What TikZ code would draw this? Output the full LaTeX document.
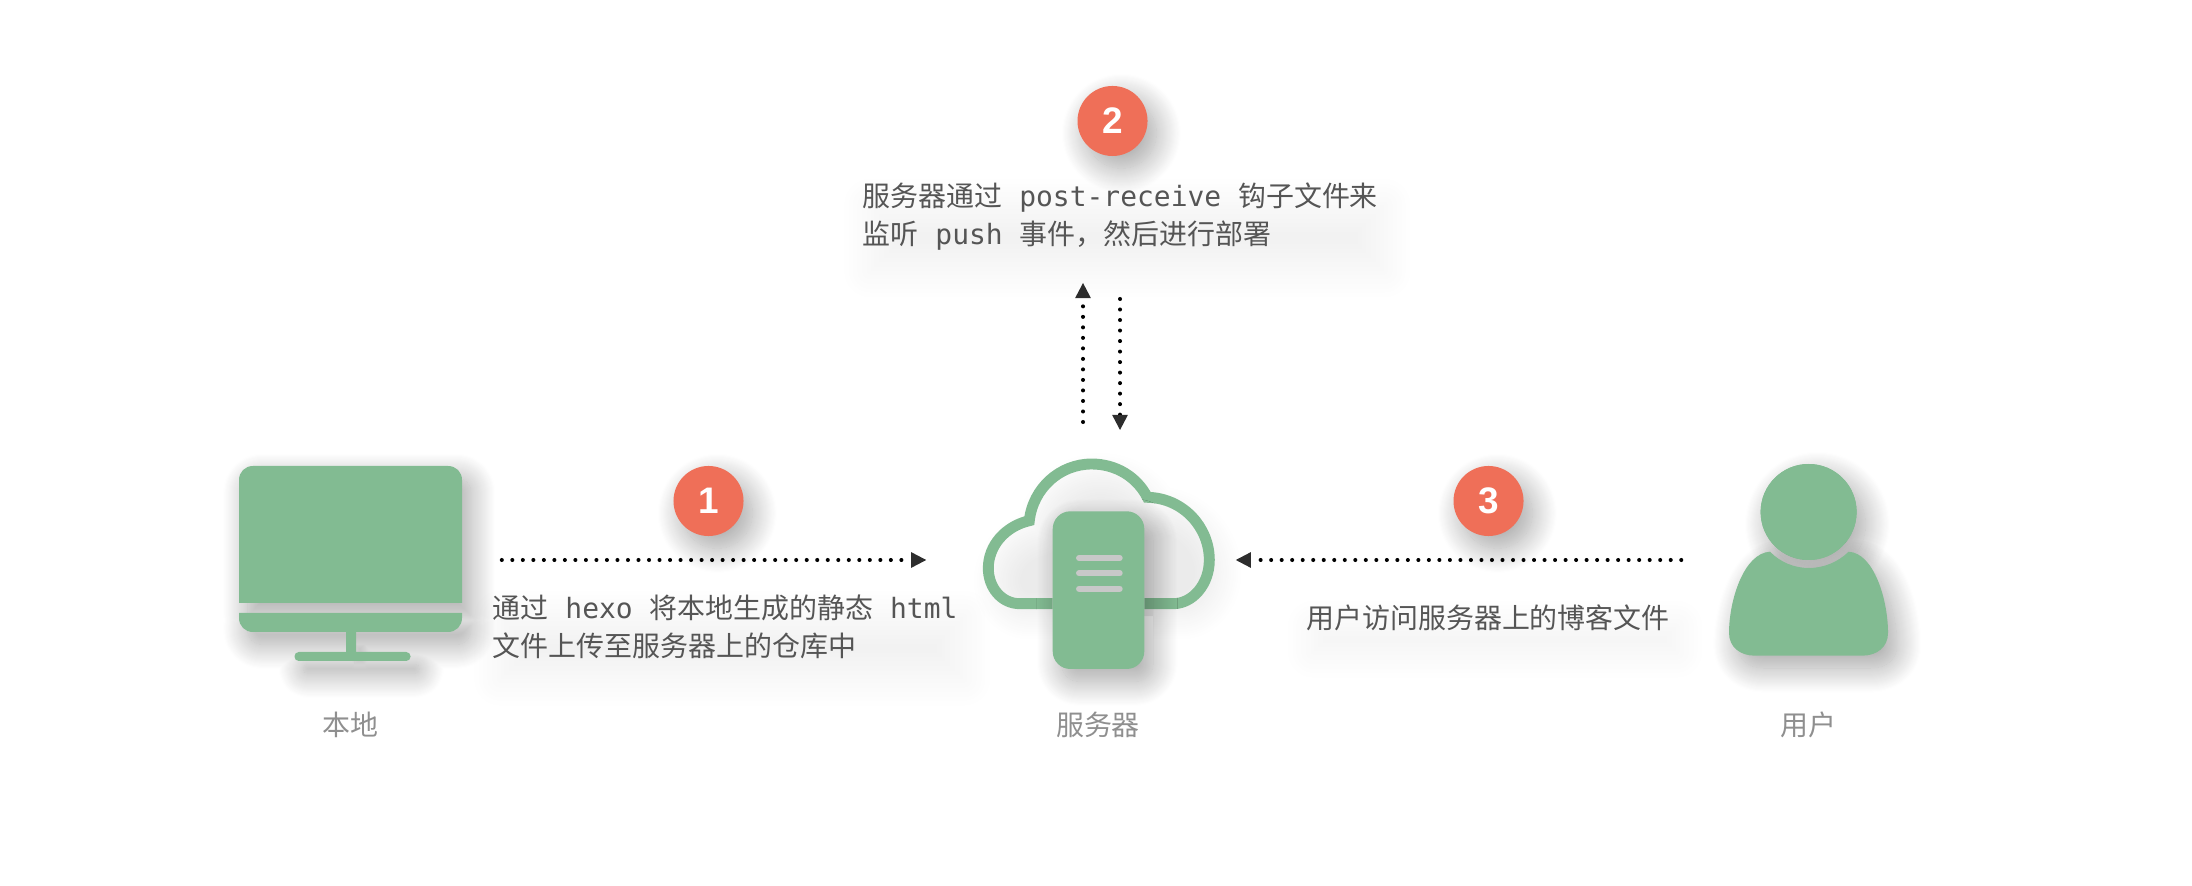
\documentclass[tikz,border=0pt]{standalone}
\usepackage{fontspec}
\usetikzlibrary{arrows.meta,shadows.blur}
\setmainfont{Noto Sans CJK SC}
\newfontfamily\latinfont{DejaVu Sans Mono}
\newfontfamily\digitfont{Liberation Sans}[BoldFont={Liberation Sans Bold}]

\definecolor{iconGreen}{HTML}{82BB92}
\definecolor{badgeRed}{HTML}{EF6F58}
\definecolor{captionGray}{HTML}{555555}
\definecolor{labelGray}{HTML}{8F8F8F}
\definecolor{slotGray}{HTML}{C8C8C8}

\tikzset{
    softshadow/.style={blur shadow={shadow xshift=2.5pt,shadow yshift=-3.5pt,shadow blur radius=7pt,shadow blur steps=24,shadow opacity=#1}},
    icon/.style={fill=iconGreen,softshadow=35},
    badge/.style={circle,fill=badgeRed,minimum size=0.7cm,inner sep=0,text=white,font=\digitfont\bfseries\fontsize{10.5}{10.5}\selectfont,softshadow=35},
    caption/.style={align=left,inner sep=0,text=captionGray,font=\fontsize{7.95}{10.8}\selectfont},
    captionshade/.style={blur shadow={shadow xshift=2pt,shadow yshift=-6pt,shadow blur radius=8pt,shadow blur steps=24,shadow opacity=5}},
    sitelabel/.style={inner sep=0,text=labelGray,font=\fontsize{7.95}{10.8}\selectfont},
    hotspot/.style={inner sep=0,minimum height=1cm},
    flow/.style={line width=1.15pt,line cap=round,dash pattern=on 0pt off 2.99pt,-{Triangle[length=4.3pt,width=4.5pt,sharp,line width=0pt]}}
}

\begin{document}
\begin{tikzpicture}[x=0.01cm,y=-0.01cm]
    \useasboundingbox (0,0) rectangle (2192,886);

    \fill[icon] (239,603) -- (239,480) .. controls (239,472) and (245,466) .. (253,466) -- (448,466) .. controls (456,466) and (462,472) .. (462,480) -- (462,603) -- cycle
        (239,613) -- (462,613) -- (462,618) .. controls (462,626) and (456,632) .. (448,632) -- (253,632) .. controls (245,632) and (239,626) .. (239,618) -- cycle
        (346,632) rectangle (356,653)
        {[rounded corners=1.2pt] (294.5,652) rectangle (410.5,661)};

    \draw[line width=3.1pt,draw=iconGreen,miter limit=10,softshadow=8] (1052.7,603.7) -- (1020,603.7) .. controls (1001,603.7) and (988.3,587) .. (988.3,568.3) .. controls (988.3,545) and (1006,526) .. (1029.3,520.7) .. controls (1033,488) and (1060,464) .. (1091.7,464) .. controls (1116,464) and (1137,477) .. (1147.3,497.3) .. controls (1183,498) and (1209.3,527) .. (1209.3,560) .. controls (1209.3,585) and (1192,603.7) .. (1173.3,603.7) -- (1144.3,603.7);
    \fill[icon,rounded corners=5pt] (1052.7,511.3) rectangle (1144.3,669);
    \draw[line width=1.7pt,line cap=round,draw=slotGray] (1079,558) -- (1119.7,558);
    \draw[line width=1.7pt,line cap=round,draw=slotGray] (1079,573.3) -- (1119.7,573.3);
    \draw[line width=1.7pt,line cap=round,draw=slotGray] (1079,588.7) -- (1119.7,588.7);

    \fill[icon] (1808.6,512) circle[radius=48];
    \fill[icon] (1770,551.7) .. controls (1780,562) and (1794,568) .. (1808.6,568) .. controls (1824,568) and (1838,562) .. (1848.6,551.7) .. controls (1874,553) and (1888,600) .. (1888,633) .. controls (1888,647) and (1877,655.7) .. (1862,655.7) -- (1755,655.7) .. controls (1740,655.7) and (1729,647) .. (1729,633) .. controls (1729,600) and (1744,553) .. (1770,551.7) -- cycle;
    \fill[iconGreen] (1808.6,512) circle[radius=48];

    \node[hotspot,minimum width=3.02cm] (desktop) at (350,560) {};
    \node[hotspot,minimum width=3.08cm] (server) at (1081,560) {};
    \node[hotspot,minimum width=2.52cm] (visitor) at (1808,560) {};
    \coordinate (upfoot) at (1083,422);
    \coordinate (uptip) at (1083,283);
    \coordinate (downfoot) at (1120,299);
    \coordinate (downtip) at (1120,430);

    \node[badge] (one) at (708.5,501) {1};
    \node[badge] (two) at (1112.5,121) {2};
    \node[badge] (three) at (1488.5,501) {3};

    \draw[flow] (desktop.east) -- (server.west);
    \draw[flow] (visitor.west) -- (server.east);
    \draw[flow] (upfoot) -- (uptip);
    \draw[flow] (downfoot) -- (downtip);

    \node[caption,captionshade,anchor=west] (upload) at (492,627) {通过{\latinfont\ hexo\ }将本地生成的静态{\latinfont\ html}\\文件上传至服务器上的仓库中};
    \node[caption,captionshade,anchor=west] (deploy) at (862,217) {服务器通过{\latinfont\ post-receive\ }钩子文件来\\监听{\latinfont\ push\ }事件，然后进行部署};
    \node[caption,captionshade] (visit) at (1488,618) {用户访问服务器上的博客文件};

    \node[sitelabel] (desktoplabel) at (350,725) {本地};
    \node[sitelabel] (serverlabel) at (1098,725) {服务器};
    \node[sitelabel] (visitorlabel) at (1808,725) {用户};
\end{tikzpicture}
\end{document}
